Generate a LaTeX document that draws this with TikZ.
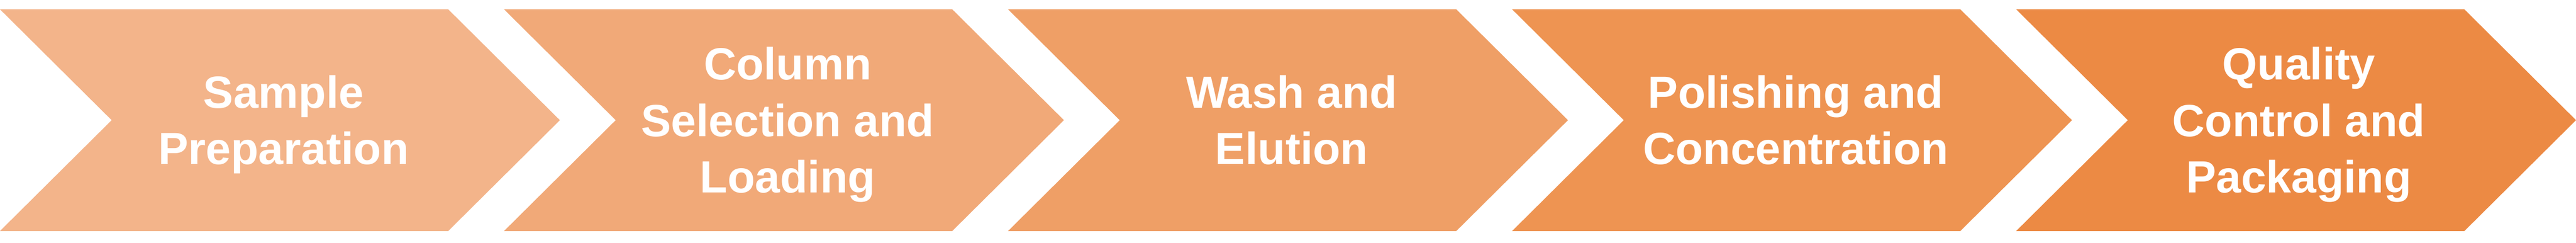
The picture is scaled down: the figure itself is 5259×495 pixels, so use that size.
\documentclass[tikz,border=0pt]{standalone}
\usepackage{fontspec}
\setmainfont{Liberation Sans}
\definecolor{cA}{HTML}{F3B48A}
\definecolor{cB}{HTML}{F1A978}
\definecolor{cC}{HTML}{EF9F66}
\definecolor{cD}{HTML}{EE9452}
\definecolor{cE}{HTML}{EC8A44}
\newcommand{\topstrut}{\rule{0pt}{95pt}}
\newcommand{\botstrut}{\rule[-29pt]{0pt}{0pt}}
\tikzset{
  chev/.style={draw=none},
  lbl/.style={text=white, inner sep=0pt, align=center, anchor=center,
    font=\fontsize{92}{115}\selectfont\bfseries}
}
\begin{document}
\begin{tikzpicture}[x=1pt,y=-1pt]
\useasboundingbox (0,0) rectangle (5259,495);
\foreach \i/\c in {0/cA,1/cB,2/cC,3/cD,4/cE}{
  \fill[\c] ({\i*1029},19) -- ({\i*1029+915},19) -- ({\i*1029+1143},245)
    -- ({\i*1029+915},471) -- ({\i*1029},471) -- ({\i*1029+228},245) -- cycle;
}
\node[lbl] (t1) at (579,245) {\topstrut Sample\\Preparation\botstrut};
\node[lbl] (t2) at (1608,245) {\topstrut Column\\Selection and\\Loading\botstrut};
\node[lbl] (t3) at (2637,245) {\topstrut Wash and\\Elution\botstrut};
\node[lbl] (t4) at (3666,245) {\topstrut Polishing and\\Concentration\botstrut};
\node[lbl] (t5) at (4693,245) {\topstrut Quality\\Control and\\Packaging\botstrut};
\end{tikzpicture}
\end{document}
